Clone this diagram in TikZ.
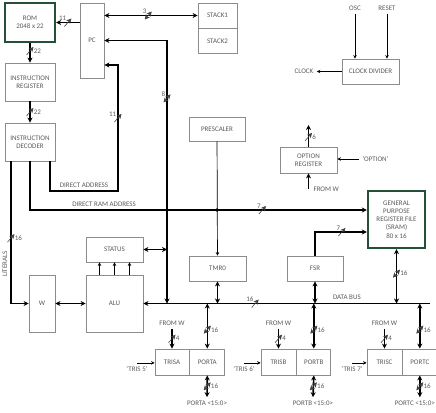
\documentclass[tikz,border=0pt]{standalone}
\usepackage{fontspec}
\setmainfont{Carlito}
\usetikzlibrary{positioning, arrows.meta, calc}
\definecolor{txtgray}{HTML}{5A5A5A}
\definecolor{boxgray}{HTML}{8C8C8C}
\definecolor{memgreen}{HTML}{24503A}

\begin{document}
\begin{tikzpicture}[
      x=1pt, y=-1pt,
      every node/.style={font=\fontsize{7}{8.2}\selectfont, text=txtgray},
      blk/.style={draw=boxgray, line width=0.8pt, fill=white, align=center, inner sep=1pt},
      memblk/.style={draw=memgreen, line width=2.4pt, fill=white, align=center, inner sep=1pt},
      bus/.style={line width=1.6pt},
      sigarr/.style={line width=0.7pt, -{Stealth[length=3.5pt, width=3.5pt]}},
      wd/.pic={\draw[line width=0.6pt, black!75] (-3.5,4) -- (3.5,-4);},
      num/.style={inner sep=1pt},
      >={Stealth[length=5pt, width=5pt]},
    ]
    \useasboundingbox (0,0) rectangle (436,412);

    % Program memory
    \node[memblk, minimum width=50, minimum height=39] (rom) at (30,22.5) {ROM\\2048 x 22};
    \node[blk, minimum width=24, minimum height=75] (pc) at (92,40.5) {PC};
    \node[blk, minimum width=39, minimum height=25] (stk1) at (217.5,15.5) {STACK1};
    \node[blk, minimum width=39, minimum height=25, below=0pt of stk1] (stk2) {STACK2};
    \node[blk, minimum width=50, minimum height=38] (ir) at (30,82) {INSTRUCTION\\REGISTER};
    \node[blk, minimum width=50, minimum height=38] (id) at (30,142) {INSTRUCTION\\DECODER};

    \draw[bus,->] (rom.east -| pc.west) -- (rom.east) pic[pos=.5]{wd} node[num, pos=.5, above left]{11};
    \draw[bus,<->] (pc.east |- stk1) -- (stk1.west) pic[pos=.47]{wd} node[num, pos=.47, above left]{3};
    \draw[bus,->] (rom) -- (ir) pic[pos=.4]{wd} node[num, pos=.4, right=2pt]{22};
    \draw[bus,->] (ir) -- (id) pic[pos=.5]{wd} node[num, pos=.5, right=2pt]{22};

    % Clock
    \node[blk, minimum width=57, minimum height=25] (clkdiv) at (370.5,71.5) {CLOCK DIVIDER};
    \node (osc) at (355,8) {OSC};
    \node (rst) at (387,8) {RESET};
    \node (clk) at (304,71.5) {CLOCK};
    \draw[sigarr] (osc) -- (osc |- clkdiv.north);
    \draw[sigarr] (rst) -- (rst |- clkdiv.north);
    \draw[sigarr] (clkdiv.west) -- (clk.east);

    % Registers
    \node[blk, minimum width=56, minimum height=24] (pre) at (217,129) {PRESCALER};
    \node[blk, minimum width=57, minimum height=26] (opt) at (308.5,160) {OPTION\\REGISTER};
    \node[memblk, minimum width=57, minimum height=57] (gpr) at (396.5,219.5)
      {GENERAL\\PURPOSE\\REGISTER FILE\\(SRAM)\\80 x 16};
    \node[blk, minimum width=57, minimum height=25] (status) at (114.5,249.5) {STATUS};
    \node[blk, minimum width=57, minimum height=25] (tmr0) at (217.5,268.5) {TMR0};
    \node[blk, minimum width=56, minimum height=25] (fsr) at (315,268.5) {FSR};
    \node[blk, minimum width=26, minimum height=57] (w) at (42,303.5) {W};
    \node[blk, minimum width=57, minimum height=57] (alu) at (114.5,303.5) {ALU};

    \coordinate (optout) at (308.5,125);
    \node[anchor=west] (fwo) at (310,189) {FROM W};
    \node[anchor=west] (optl) at (359,159) {`OPTION'};
    \draw[bus,->] (opt) -- (optout) pic[pos=.45]{wd} node[num, pos=.45, right=2pt]{6};
    \draw[bus,->] (fwo.west -| opt.south) -- (opt.south);
    \draw[sigarr] (optl.west) -- (optl.west -| opt.east);

    % Address paths
    \coordinate (dbend) at (430,303.5);
    \coordinate (pcl) at (167,303.5);
    \coordinate (da1) at (50,191);
    \coordinate (da2) at (118,65);
    \coordinate (dra) at (30,210);
    \coordinate (lit) at (11,0);
    \coordinate (fsrin) at (0,232);

    \draw[bus,<->] (pcl) |- (pc.east) pic[pos=.39]{wd} node[num, pos=.39, above left]{8};
    \draw[bus,->] (id.south -| da1) -- (da1) -| node[pos=.25, above=-1pt]{DIRECT ADDRESS} (da2)
      pic[pos=.79]{wd} node[num, pos=.79, above left]{11} -- (da2 -| pc.east);
    \draw[bus,->] (id.south) -- (dra) -- (dra -| gpr.west)
      node[pos=.22, above=-1pt]{DIRECT RAM ADDRESS} pic[pos=.69]{wd} node[num, pos=.69, above left]{7};
    \draw[bus,->] (id.south -| lit) |- (w.west) pic[pos=.27]{wd} node[num, pos=.27, right=2pt]{16};
    \node[rotate=90] (litl) at (5,264) {LITERALS};
    \fill (pcl |- dra) circle[radius=1.8pt];
    \fill (pre |- dra) circle[radius=1.8pt];

    % Data bus
    \draw[bus,<->] (w) -- (alu);
    \draw[bus,->] (dbend) -- (alu.east)
      node[pos=.29, above]{DATA BUS} pic[pos=.61]{wd} node[num, pos=.61, above left]{16};
    \draw[bus,<->] (status.east) -- (status.east -| pcl);
    \foreach \dx in {-15,0,15}
      \draw[sigarr] ([xshift=\dx pt]alu.north) -- ([xshift=\dx pt]status.south);
    \draw[sigarr] (pre) -- (tmr0);
    \draw[bus,<->] (tmr0.south) -- (tmr0.south |- dbend);
    \draw[bus,<->] (fsr.south) -- (fsr.south |- dbend);
    \draw[bus,->] (fsr.north) |- (gpr.west |- fsrin) pic[pos=.76]{wd} node[num, pos=.76, above left]{7};
    \draw[bus,<->] (gpr.south) -- (gpr.south |- dbend) pic[pos=.45]{wd} node[num, pos=.45, right=2pt]{16};

    % Ports
    \node[blk, minimum width=34, minimum height=26] (trisa) at (172,362) {TRISA};
    \node[blk, minimum width=35, minimum height=26, right=0pt of trisa] (porta) {PORTA};
    \node[blk, minimum width=35, minimum height=26] (trisb) at (278.5,362) {TRISB};
    \node[blk, minimum width=34, minimum height=26, right=0pt of trisb] (portb) {PORTB};
    \node[blk, minimum width=35, minimum height=26] (trisc) at (384.5,362) {TRISC};
    \node[blk, minimum width=34, minimum height=26, right=0pt of trisc] (portc) {PORTC};

    \node (fwa) at (172,323) {FROM W};
    \node (fwb) at (278.5,323) {FROM W};
    \node (fwc) at (384.5,323) {FROM W};
    \node (t5) at (137,369) {`TRIS 5'};
    \node (t6) at (244,369) {`TRIS 6'};
    \node (t7) at (352,369) {`TRIS 7'};
    \node (pal) at (207,403) {PORTA <15:0>};
    \node (pbl) at (313,403) {PORTB <15:0>};
    \node[anchor=east, inner xsep=1pt] (pcl2) at (436,403) {PORTC <15:0>};

    \draw[bus,<->] (porta.north |- dbend) -- (porta.north) pic[pos=.58]{wd} node[num, pos=.58, right=2pt]{16};
    \draw[bus,<->] (portb.north |- dbend) -- (portb.north) pic[pos=.58]{wd} node[num, pos=.58, right=2pt]{16};
    \draw[bus,<->] (portc.north |- dbend) -- (portc.north) pic[pos=.58]{wd} node[num, pos=.58, right=2pt]{16};
    \draw[bus,<->] (porta.south) -- (pal.north) pic[pos=.5]{wd} node[num, pos=.5, right=2pt]{16};
    \draw[bus,<->] (portb.south) -- (pbl.north) pic[pos=.5]{wd} node[num, pos=.5, right=2pt]{16};
    \draw[bus,<->] (portc.south) -- (portc.south |- pcl2.north) pic[pos=.5]{wd} node[num, pos=.5, right=2pt]{16};
    \draw[bus,->] (fwa) -- (trisa) pic[pos=.5]{wd} node[num, pos=.5, right=2pt]{4};
    \draw[bus,->] (fwb) -- (trisb) pic[pos=.5]{wd} node[num, pos=.5, right=2pt]{4};
    \draw[bus,->] (fwc) -- (trisc) pic[pos=.5]{wd} node[num, pos=.5, right=2pt]{4};
    \draw[sigarr] (t5.north) -- (t5.north -| trisa.west);
    \draw[sigarr] (t6.north) -- (t6.north -| trisb.west);
    \draw[sigarr] (t7.north) -- (t7.north -| trisc.west);
  \end{tikzpicture}
\end{document}
